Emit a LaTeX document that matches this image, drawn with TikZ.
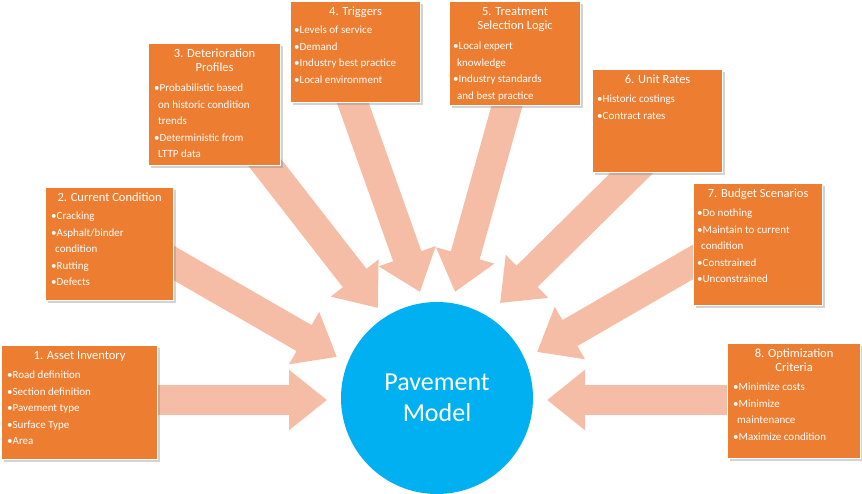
\documentclass[tikz,border=0pt]{standalone}
\usepackage{fontspec}
\setmainfont{Carlito}
\usetikzlibrary{arrows.meta,shadows}
\definecolor{boxor}{HTML}{ED7D31}
\definecolor{arr}{HTML}{F5BCA6}
\definecolor{circ}{HTML}{00B0F0}
\begin{document}
\begin{tikzpicture}[x=1pt,y=-1pt,
  box/.style={draw=white,line width=1.2pt,fill=boxor,anchor=north west,inner sep=0pt,drop shadow={shadow xshift=2pt,shadow yshift=-2pt,opacity=0.35}},
  ttl/.style={anchor=north,text=white,align=center,font=\fontsize{12.5}{14}\selectfont,inner sep=0pt},
  items/.style={anchor=north west,text=white,align=left,font=\fontsize{11}{16.5}\selectfont,inner sep=0pt},
  big/.style={draw=arr,line width=30pt,-{Triangle[width=58pt,length=38pt]}}]
\useasboundingbox (0,0) rectangle (862,493);
% arrows
\coordinate (a1s) at (150,400); \coordinate (a1e) at (327,400);
\coordinate (a2s) at (165,258); \coordinate (a2e) at (337,357);
\coordinate (a3s) at (255,150); \coordinate (a3e) at (378,308);
\coordinate (a4s) at (350,95);  \coordinate (a4e) at (420,292);
\coordinate (a5s) at (510,95);  \coordinate (a5e) at (455,292);
\coordinate (a6s) at (645,160); \coordinate (a6e) at (500,303);
\coordinate (a7s) at (705,255); \coordinate (a7e) at (537,352);
\coordinate (a8s) at (735,400); \coordinate (a8e) at (547,400);
\foreach \i in {1,...,8}{\draw[big] (a\i s) -- (a\i e);}
% circle
\node[circle,fill=circ,minimum size=192pt,inner sep=0pt,text=white,align=center,font=\fontsize{26}{31}\selectfont] (pm) at (437,398) {Pavement\\Model};
% boxes
\node[box,minimum width=156pt,minimum height=114pt] (b1) at (1,345) {};
\node[ttl] (t1) at ([yshift=-6pt]b1.north) {1. Asset Inventory};
\node[items] (i1) at (7,371) {•Road definition\\•Section definition\\•Pavement type\\•Surface Type\\•Area};

\node[box,minimum width=128pt,minimum height=113pt] (b2) at (45,187) {};
\node[ttl] (t2) at ([yshift=-6pt]b2.north) {2. Current Condition};
\node[items] (i2) at (51,212) {•Cracking\\•Asphalt/binder\\\hspace*{4pt}condition\\•Rutting\\•Defects};

\node[box,minimum width=132pt,minimum height=122pt] (b3) at (148,43) {};
\node[ttl] (t3) at ([yshift=-6pt]b3.north) {3. Deterioration\\Profiles};
\node[items] (i3) at (154,84) {•Probabilistic based\\\hspace*{4pt}on historic condition\\\hspace*{4pt}trends\\•Deterministic from\\\hspace*{4pt}LTTP data};

\node[box,minimum width=130pt,minimum height=101pt] (b4) at (290,1) {};
\node[ttl] (t4) at ([yshift=-6pt]b4.north) {4. Triggers};
\node[items] (i4) at (294,26) {•Levels of service\\•Demand\\•Industry best practice\\•Local environment};

\node[box,minimum width=131pt,minimum height=104pt] (b5) at (449,1) {};
\node[ttl] (t5) at ([yshift=-6pt]b5.north) {5. Treatment\\Selection Logic};
\node[items] (i5) at (453,42) {•Local expert\\\hspace*{4pt}knowledge\\•Industry standards\\\hspace*{4pt}and best practice};

\node[box,minimum width=130pt,minimum height=103pt] (b6) at (592,69) {};
\node[ttl] (t6) at ([yshift=-6pt]b6.north) {6. Unit Rates};
\node[items] (i6) at (597,95) {•Historic costings\\•Contract rates};

\node[box,minimum width=129pt,minimum height=122pt] (b7) at (693,183) {};
\node[ttl] (t7) at ([yshift=-6pt]b7.north) {7. Budget Scenarios};
\node[items] (i7) at (697,209) {•Do nothing\\•Maintain to current\\\hspace*{4pt}condition\\•Constrained\\•Unconstrained};

\node[box,minimum width=133pt,minimum height=115pt] (b8) at (727,343) {};
\node[ttl] (t8) at ([yshift=-6pt]b8.north) {8. Optimization\\Criteria};
\node[items] (i8) at (733,383) {•Minimize costs\\•Minimize\\\hspace*{4pt}maintenance\\•Maximize condition};
\end{tikzpicture}
\end{document}
